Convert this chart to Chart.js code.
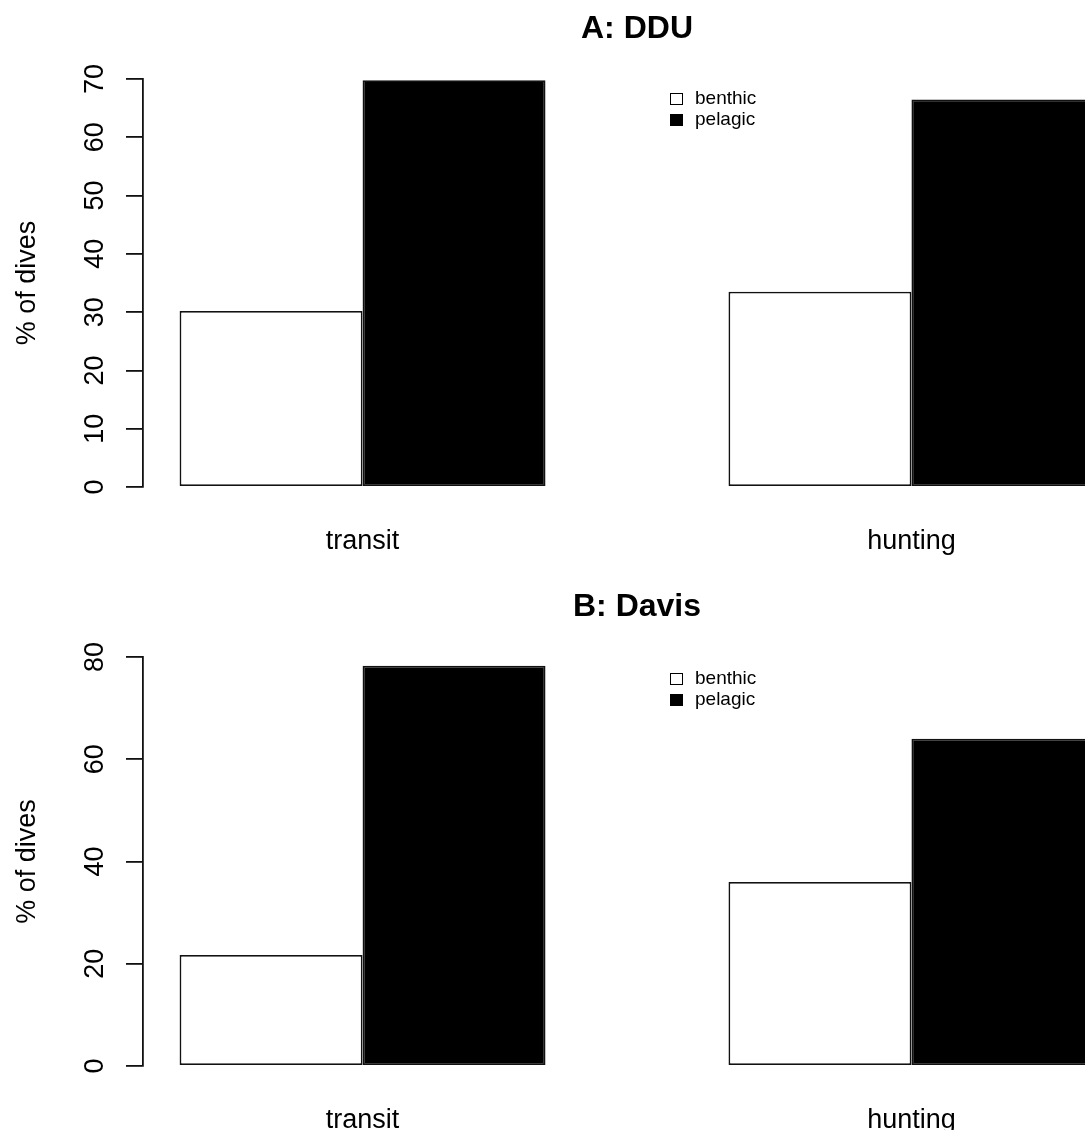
<!DOCTYPE html>
<html>
<head>
<meta charset="utf-8">
<script src="https://cdn.jsdelivr.net/npm/chart.js@4.4.1/dist/chart.umd.min.js"></script>
<style>
  html, body { margin: 0; padding: 0; background: #fff; overflow: hidden; }
  #wrap { position: relative; width: 1085px; height: 1130px; overflow: hidden; }
  .panel { position: absolute; left: 0; width: 1131px; height: 565px; }
  canvas { display: block; }
  .legend { position: absolute; left: 670px; font: 19px "Liberation Sans", Arial, sans-serif; color: #000; }
  .legend .item { position: absolute; left: 0; white-space: nowrap; }
  .legend .box { position: absolute; left: 0; top: 0; width: 13px; height: 12px; box-sizing: border-box; }
  .legend .txt { position: absolute; left: 25px; top: -5px; line-height: 19px; }
</style>
</head>
<body>
<div id="wrap">
  <div class="panel" style="top:0"><canvas id="chartA" width="1131" height="565"></canvas></div>
  <div class="panel" style="top:565px"><canvas id="chartB" width="1131" height="565"></canvas></div>
  <div class="legend" id="legendA" style="top:93px"></div>
  <div class="legend" id="legendB" style="top:673px"></div>
</div>
<script>
const categories = ["transit", "hunting"];
const seriesNames = ["benthic", "pelagic"];
const seriesFill = ["#ffffff", "#000000"];

const dduBenthic = [30.2, 33.5];
const dduPelagic = [69.8, 66.5];
const dduTicks = [0, 10, 20, 30, 40, 50, 60, 70];

const davisBenthic = [21.7, 36.0];
const davisPelagic = [78.3, 64.0];
const davisTicks = [0, 20, 40, 60, 80];

const FONT = "'Liberation Sans', Arial, Helvetica, sans-serif";

function makePanel(id, title, benthic, pelagic, yTicks, lay) {
  const ctx = document.getElementById(id).getContext("2d");
  const series = [benthic, pelagic];
  return new Chart(ctx, {
    type: "bar",
    data: {
      datasets: series.map((vals, s) => ({
        label: seriesNames[s],
        data: vals.map((v, i) => ({ x: i, y: v })),
        backgroundColor: seriesFill[s],
        borderColor: "#111",
        borderWidth: 1.8,
        borderSkipped: false,
        categoryPercentage: 2 / 3,
        barPercentage: 1
      }))
    },
    options: {
      responsive: false,
      animation: false,
      devicePixelRatio: 1,
      layout: { padding: 0 },
      plugins: {
        legend: { display: false },
        tooltip: { enabled: false },
        title: {
          display: true,
          text: title,
          fullSize: false,
          color: "#000",
          font: { family: FONT, size: 32, weight: "bold", lineHeight: 1.2 },
          padding: { top: lay.titleTop, bottom: lay.titleBottom }
        }
      },
      scales: {
        x: {
          type: "linear",
          min: -0.4,
          max: 1.4,
          offset: false,
          grid: { display: false },
          border: { display: false },
          afterBuildTicks: (scale) => { scale.ticks = categories.map((c, i) => ({ value: i })); },
          afterFit: (scale) => { scale.height = lay.xHeight; },
          ticks: {
            padding: 30,
            color: "#000",
            font: { family: FONT, size: 27 },
            maxRotation: 0,
            autoSkip: false,
            callback: (v) => categories[v]
          }
        },
        y: {
          min: yTicks[0],
          max: yTicks[yTicks.length - 1],
          afterBuildTicks: (scale) => { scale.ticks = yTicks.map(v => ({ value: v })); },
          afterFit: (scale) => { scale.width = 143; },
          grid: {
            drawOnChartArea: false,
            drawTicks: true,
            tickLength: 17,
            color: "#111",
            lineWidth: 1.8
          },
          border: { display: true, color: "#111", width: 1.8 },
          ticks: {
            padding: 15,
            crossAlign: "center",
            minRotation: 90,
            maxRotation: 90,
            color: "#000",
            font: { family: FONT, size: 27 }
          },
          title: {
            display: true,
            text: "% of dives",
            color: "#000",
            font: { family: FONT, size: 27, lineHeight: 1.2 },
            padding: { top: 11, bottom: 0 }
          }
        }
      }
    }
  });
}

function buildLegend(chart, el) {
  const items = Chart.defaults.plugins.legend.labels.generateLabels(chart);
  items.forEach((it, i) => {
    const row = document.createElement("div");
    row.className = "item";
    row.style.top = (i * 20.5) + "px";
    const box = document.createElement("div");
    box.className = "box";
    box.style.background = it.fillStyle;
    box.style.border = "1.6px solid #000";
    const txt = document.createElement("div");
    txt.className = "txt";
    txt.textContent = it.text;
    row.appendChild(box);
    row.appendChild(txt);
    el.appendChild(row);
  });
}

const chartA = makePanel("chartA", "A: DDU", dduBenthic, dduPelagic, dduTicks,
  { titleTop: 10.3, titleBottom: 30.3, xHeight: 78 });
const chartB = makePanel("chartB", "B: Davis", davisBenthic, davisPelagic, davisTicks,
  { titleTop: 22.5, titleBottom: 31.1, xHeight: 64 });

buildLegend(chartA, document.getElementById("legendA"));
buildLegend(chartB, document.getElementById("legendB"));
</script>
</body>
</html>
